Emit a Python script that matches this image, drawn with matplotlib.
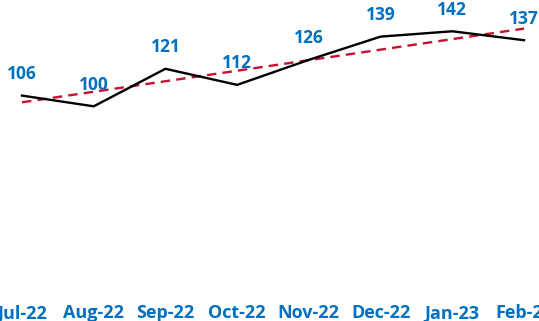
import matplotlib
matplotlib.use("Agg")
import matplotlib.pyplot as plt
import numpy as np

months = ["Jul-22", "Aug-22", "Sep-22", "Oct-22", "Nov-22", "Dec-22", "Jan-23", "Feb-23"]
values = [106, 100, 121, 112, 126, 139, 142, 137]

BLUE = "#0070C0"
RED = "#C8102E"

plt.rcParams["font.family"] = ["Open Sans", "DejaVu Sans"]

W, H = 539, 321
fig = plt.figure(figsize=(W / 100, H / 100), dpi=100)
# plot area runs past both edges, so the outer tick labels get clipped
ax = fig.add_axes([0, 1 - 285 / H, 1, 285 / H])

x = np.arange(len(months))
ax.plot(x, values, color="black", linewidth=1.7, zorder=3)

# linear trend across the months
slope, intercept = np.polyfit(x, values, 1)
ax.plot(x, slope * x + intercept, color=RED, linewidth=1.7,
        linestyle=(0, (4, 2.6)), zorder=2)

for xi, v in zip(x, values):
    ax.annotate(f"{v}", (xi, v), xytext=(0, 9), textcoords="offset points",
                ha="center", va="bottom", color=BLUE, fontsize=12.5,
                fontweight="bold", zorder=4)

step = 71.7
ax.set_xlim(-22 / step, 7 + 15 / step)
ax.set_ylim(0, 159.5)
ax.set_xticks(x)
ax.set_xticklabels(months, color=BLUE, fontsize=13, fontweight="bold")
ax.tick_params(axis="x", length=0, pad=14)
ax.set_yticks([])
for s in ax.spines.values():
    s.set_visible(False)

fig.savefig("out.png", dpi=100)
